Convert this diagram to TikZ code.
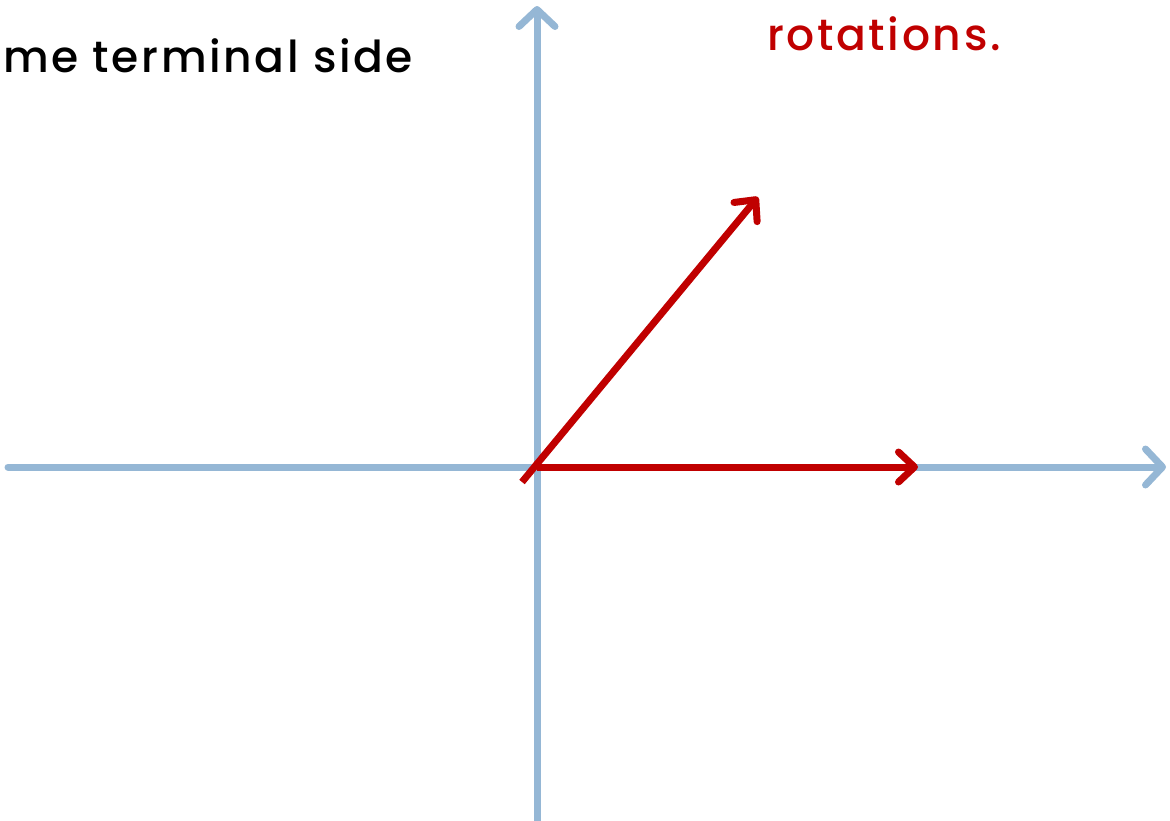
\documentclass[tikz,border=0pt]{standalone}
\usepackage{fontspec}
\setmainfont{Poppins}[LetterSpace=6, BoldFont={* Medium}]
\usetikzlibrary{arrows.meta}
\definecolor{axisblue}{RGB}{149,183,213}
\definecolor{rotred}{RGB}{192,0,0}
\tikzset{
  axisline/.style={draw=axisblue, line width=7pt, line cap=round, -{Straight Barb[length=17pt,width=36pt,line cap=round,line join=round]}},
  rayline/.style={draw=rotred, line width=7pt, -{Straight Barb[length=16pt,width=30pt,line cap=round,line join=round]}},
  txt/.style={inner sep=0pt, anchor=base west, font=\fontsize{44}{52}\selectfont\bfseries}
}
\begin{document}
\begin{tikzpicture}[x=1pt,y=-1pt]
\useasboundingbox (0,0) rectangle (1170,820);
\coordinate (xl) at (8,467);
\coordinate (xr) at (1166,467);
\coordinate (yb) at (537,830);
\coordinate (yt) at (537,6);
\coordinate (O) at (537,467);
\coordinate (S) at (522,482);
\coordinate (T1) at (918,467);
\coordinate (T2) at (758,197);
\draw[axisline] (xl) -- (xr);
\draw[axisline] (yb) -- (yt);
\draw[rayline] (O) -- (T1);
\draw[rayline] (S) -- (T2);
\node[txt, text=black] (t1) at (3,72) {me terminal side};
\node[txt, text=rotred] (t2) at (767,50) {rotations.};
\end{tikzpicture}
\end{document}
